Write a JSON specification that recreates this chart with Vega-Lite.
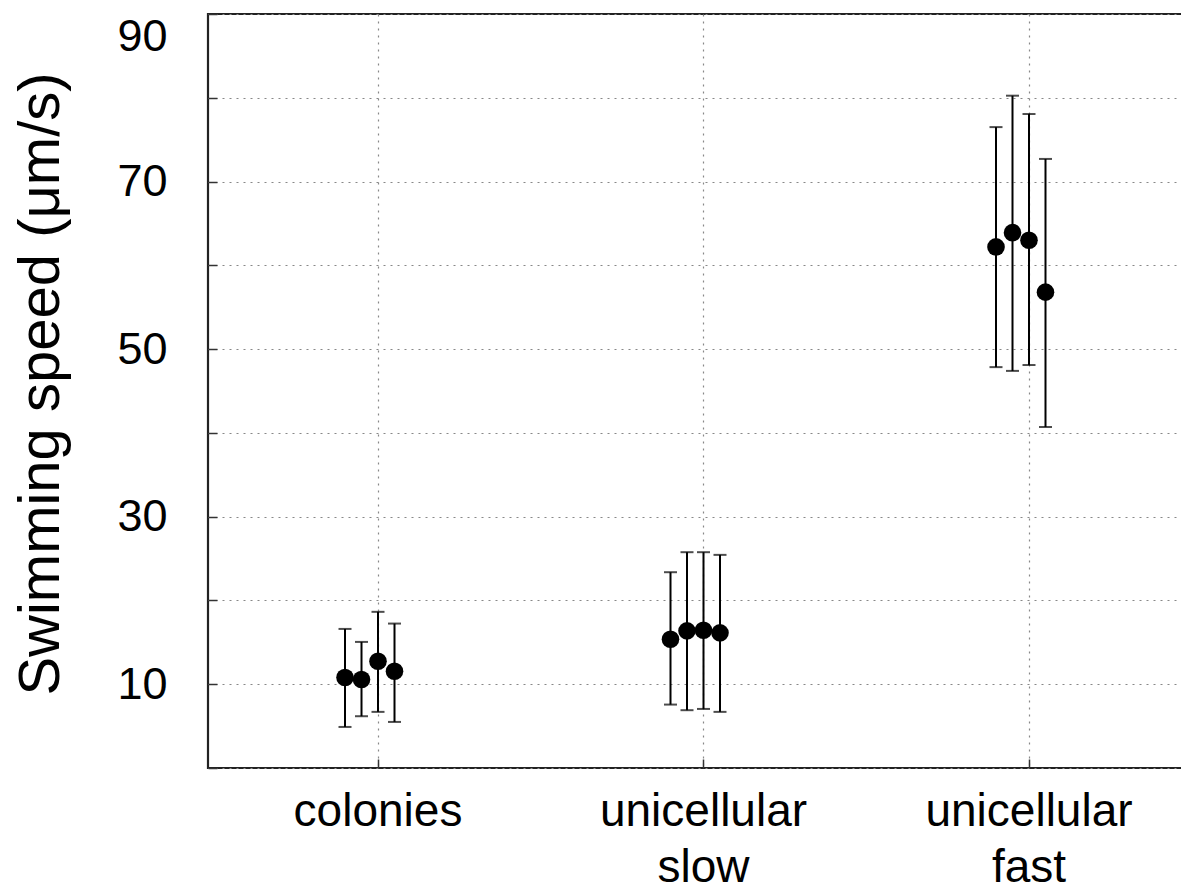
{
  "$schema": "https://vega.github.io/schema/vega-lite/v6.json",
  "autosize": {"type": "none"},
  "padding": {"left": 208, "top": 14, "right": 0, "bottom": 124},
  "width": 983.75,
  "height": 754,
  "background": "white",
  "config": {
    "font": "Liberation Sans",
    "view": {"stroke": "#222222", "strokeWidth": 2.2},
    "axis": {"labelFont": "Liberation Sans", "titleFont": "Liberation Sans", "labelColor": "black", "titleColor": "black", "labelLimit": 0}
  },
  "data": {
    "values": [
      {"group": "colonies", "rep": 1, "speed": 10.8, "lo": 4.9, "hi": 16.6},
      {"group": "colonies", "rep": 2, "speed": 10.56, "lo": 6.18, "hi": 15.05},
      {"group": "colonies", "rep": 3, "speed": 12.75, "lo": 6.7, "hi": 18.64},
      {"group": "colonies", "rep": 4, "speed": 11.55, "lo": 5.5, "hi": 17.24},
      {"group": "unicellular slow", "rep": 1, "speed": 15.37, "lo": 7.57, "hi": 23.37},
      {"group": "unicellular slow", "rep": 2, "speed": 16.37, "lo": 6.9, "hi": 25.76},
      {"group": "unicellular slow", "rep": 3, "speed": 16.45, "lo": 7.05, "hi": 25.76},
      {"group": "unicellular slow", "rep": 4, "speed": 16.13, "lo": 6.7, "hi": 25.44},
      {"group": "unicellular fast", "rep": 1, "speed": 62.2, "lo": 47.85, "hi": 76.5},
      {"group": "unicellular fast", "rep": 2, "speed": 63.9, "lo": 47.4, "hi": 80.25},
      {"group": "unicellular fast", "rep": 3, "speed": 63.0, "lo": 48.1, "hi": 78.06},
      {"group": "unicellular fast", "rep": 4, "speed": 56.8, "lo": 40.7, "hi": 72.7}
    ]
  },
  "encoding": {
    "x": {
      "field": "group",
      "type": "nominal",
      "sort": ["colonies", "unicellular slow", "unicellular fast"],
      "scale": {"type": "band", "paddingInner": 0, "paddingOuter": 0.01114, "align": 1},
      "axis": {
        "title": null,
        "labelAngle": 0,
        "labelFontSize": 46,
        "labelLineHeight": 56,
        "labelExpr": "split(datum.label, ' ')",
        "labelPadding": 30,
        "labelBaseline": "top",
        "labelLimit": 0,
        "domain": false,
        "ticks": true,
        "tickSize": -9,
        "tickColor": "#333333",
        "tickWidth": 1.5,
        "bandPosition": 0.5,
        "grid": true,
        "gridColor": "#888888",
        "gridDash": [2, 5],
        "gridWidth": 1.2
      }
    },
    "xOffset": {
      "field": "rep",
      "type": "ordinal",
      "scale": {"type": "point", "range": [129.75, 179.25], "padding": 0}
    }
  },
  "layer": [
    {
      "mark": {"type": "rule", "color": "black", "strokeWidth": 2},
      "encoding": {
        "y": {
          "field": "lo",
          "type": "quantitative",
          "scale": {"domain": [0, 90], "nice": false, "zero": false},
          "axis": {
            "title": "Swimming speed (μm/s)",
            "titleFontSize": 58,
            "titleFontWeight": "normal",
            "titleAngle": -90,
            "titleX": -150,
            "titleY": 369.5,
            "titleAlign": "center",
            "titleBaseline": "alphabetic",
            "values": [0, 10, 20, 30, 40, 50, 60, 70, 80, 90],
            "labelExpr": "datum.value % 20 == 10 ? datum.label : ''",
            "labelFontSize": 45,
            "labelPadding": 50,
            "labelFlush": true,
            "labelFlushOffset": 0,
            "domain": false,
            "ticks": true,
            "tickSize": -9,
            "tickColor": "#333333",
            "tickWidth": 1.5,
            "grid": true,
            "gridColor": "#888888",
            "gridDash": [2, 5],
            "gridWidth": 1.2
          }
        },
        "y2": {"field": "hi"}
      }
    },
    {
      "mark": {"type": "tick", "color": "black", "thickness": 2, "size": 13, "orient": "horizontal"},
      "encoding": {"y": {"field": "lo", "type": "quantitative"}}
    },
    {
      "mark": {"type": "tick", "color": "black", "thickness": 2, "size": 13, "orient": "horizontal"},
      "encoding": {"y": {"field": "hi", "type": "quantitative"}}
    },
    {
      "mark": {"type": "point", "filled": true, "shape": "circle", "color": "black", "opacity": 1, "size": 310},
      "encoding": {"y": {"field": "speed", "type": "quantitative"}}
    }
  ]
}
